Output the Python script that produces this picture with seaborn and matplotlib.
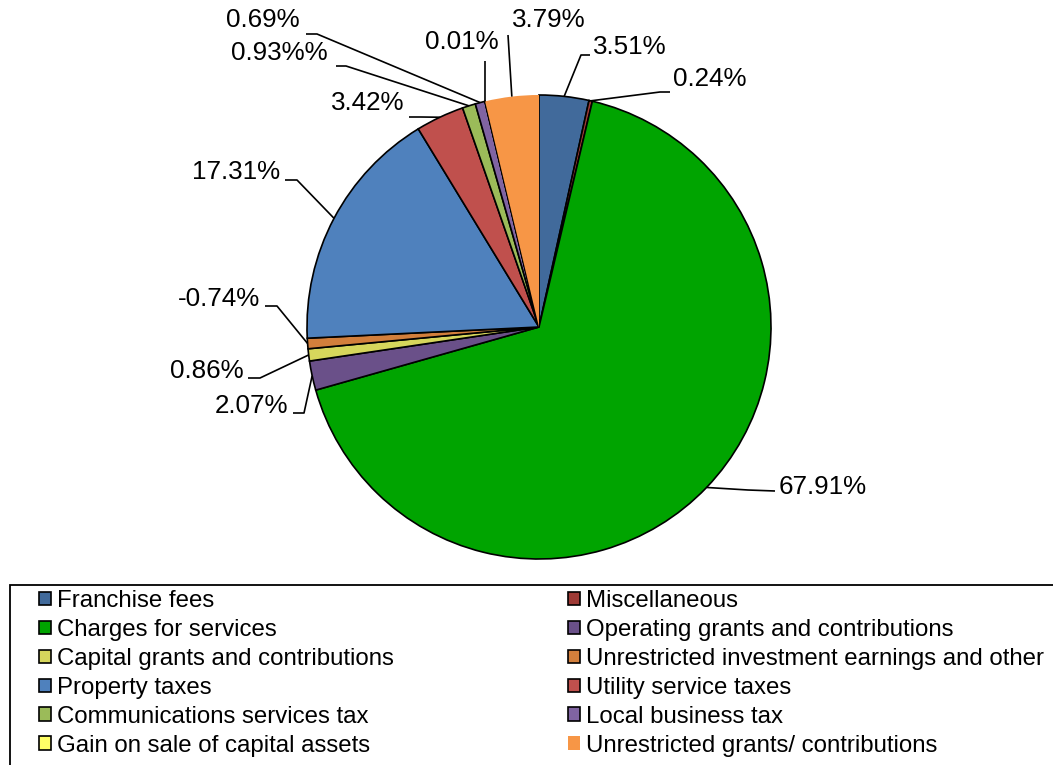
import matplotlib
matplotlib.use("Agg")
import matplotlib.pyplot as plt
import matplotlib.patches as mpatches
import numpy as np
import seaborn as sns

sns.set_theme(style="white")
plt.rcParams['font.family'] = ['Liberation Sans', 'DejaVu Sans']
plt.rcParams['text.color'] = 'black'

# --- data (clockwise from 12 o'clock) ---
categories = ['Franchise fees', 'Miscellaneous', 'Charges for services',
              'Operating grants and contributions', 'Capital grants and contributions',
              'Unrestricted investment earnings and other', 'Property taxes',
              'Utility service taxes', 'Communications services tax', 'Local business tax',
              'Gain on sale of capital assets', 'Unrestricted grants/ contributions']
shares = [3.51, 0.24, 67.91, 2.07, 0.86, -0.74, 17.31, 3.42, 0.93, 0.69, 0.01, 3.79]
pct_labels = ['3.51%', '0.24%', '67.91%', '2.07%', '0.86%', '-0.74%', '17.31%',
              '3.42%', '0.93%%', '0.69%', '0.01%', '3.79%']
colors = ['#416a9b', '#9e3a35', '#00a400', '#6a5089', '#d6d65c', '#d27f3c',
          '#4f81bd', '#c0504d', '#9bbb59', '#8064a2', '#ffff66', '#f79646']

W, H = 1053, 765
CX, CY, R = 539, 327, 232   # pie centre / radius in pixels (y down)


def P(x, y):
    return x, H - y


# label layout: text x, text y, ha, leader points (from label side towards wedge)
label_layout = [
    (593, 47, 'left', [(590, 55), (581, 55)]),
    (673, 79, 'left', [(670, 92), (660, 92)]),
    (779, 487, 'left', [(775, 491), (748, 490)]),
    (288, 406, 'right', [(293, 413), (304, 413)]),
    (244, 371, 'right', [(248, 378), (260, 378)]),
    (260, 299, 'right', [(265, 306), (277, 306)]),
    (280, 172, 'right', [(285, 180), (297, 180)]),
    (404, 103, 'right', [(409, 117), (421, 117)]),
    (328, 53, 'right', [(336, 66), (346, 66)]),
    (300, 20, 'right', [(306, 34), (317, 34)]),
    (462, 42, 'center', [(485, 61)]),
    (512, 20, 'left', [(508, 35)]),
]

fig = plt.figure(figsize=(W / 100, H / 100), dpi=100)
ax = fig.add_axes([0, 0, 1, 1])

wedges, _ = ax.pie(np.abs(shares), colors=colors, startangle=90, counterclock=False,
                   center=P(CX, CY), radius=R,
                   wedgeprops=dict(edgecolor='black', linewidth=1.2))
wedges[-1].set_edgecolor('none')
ax.set_xlim(0, W)
ax.set_ylim(0, H)
ax.set_aspect('equal')
ax.axis('off')

for w, txt, (tx, ty, ha, pts) in zip(wedges, pct_labels, label_layout):
    ang = np.deg2rad((w.theta1 + w.theta2) / 2)
    wx = w.center[0] + R * np.cos(ang)
    wy = w.center[1] + R * np.sin(ang)
    xs = [p[0] for p in pts] + [wx]
    ys = [H - p[1] for p in pts] + [wy]
    ax.plot(xs, ys, color='black', lw=1.2, solid_capstyle='butt')
    ax.text(*P(tx, ty), txt, ha=ha, va='center', fontsize=18.7, color='black')

# legend box (runs off the right and bottom edge)
fig.patches.append(mpatches.Rectangle((10 / W, -0.2), 1.1, 0.2 + 1 - 585 / H,
                                      transform=fig.transFigure, fill=False,
                                      edgecolor='black', linewidth=1.3))

order = [0, 2, 4, 6, 8, 10, 1, 3, 5, 7, 9, 11]
leg = fig.legend([wedges[i] for i in order], [categories[i] for i in order],
                 loc='upper left', bbox_to_anchor=(39 / W, 1 - 590 / H), ncol=2,
                 frameon=False, fontsize=17.25, handlelength=0.5, handleheight=0.5,
                 handletextpad=0.25, labelspacing=0.29, columnspacing=7.25,
                 borderpad=0, borderaxespad=0)
for t in leg.get_texts():
    t.set_color('black')

fig.savefig('out.png', dpi=100)
